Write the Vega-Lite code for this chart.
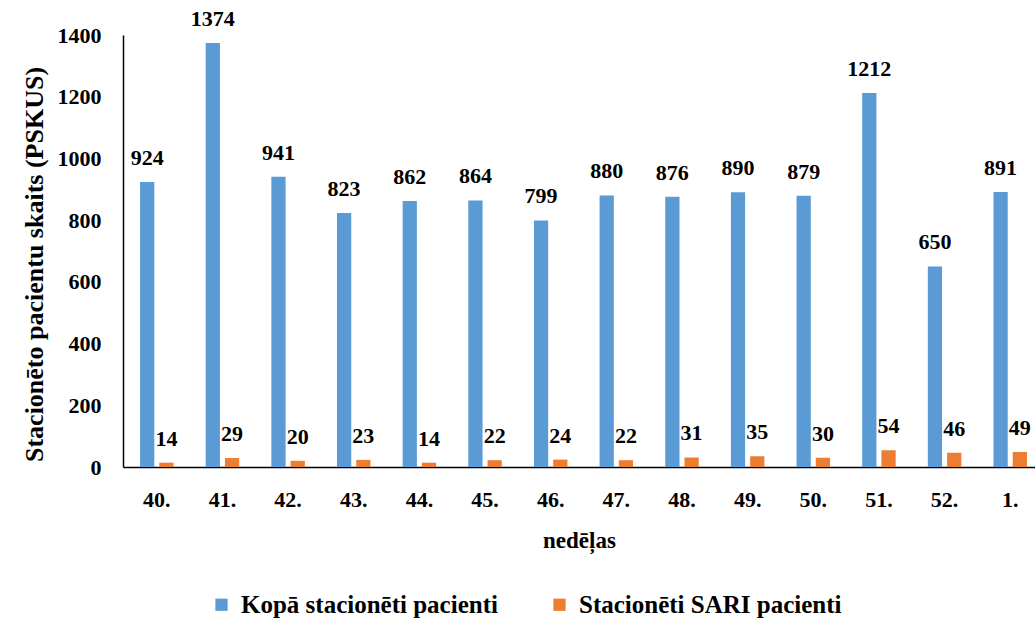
{
  "$schema": "https://vega.github.io/schema/vega-lite/v6.json",
  "width": 912,
  "height": 432,
  "autosize": {"type": "none"},
  "padding": {"left": 123, "top": 35, "right": 0, "bottom": 154},
  "background": "white",
  "config": {
    "view": {"stroke": null},
    "font": "Liberation Serif, serif",
    "axis": {"grid": false, "domainColor": "black", "domainWidth": 1.5, "labelFont": "Liberation Serif, serif", "labelFontWeight": "bold", "labelFontSize": 22, "labelColor": "black", "titleFont": "Liberation Serif, serif", "titleFontWeight": "bold", "titleFontSize": 23, "titleColor": "black"},
    "legend": {"labelFont": "Liberation Serif, serif", "labelFontWeight": "bold", "labelFontSize": 25, "labelColor": "black", "labelLimit": 0}
  },
  "data": {
    "values": [
      {"week": "40.", "series": "Kopā stacionēti pacienti", "value": 924},
      {"week": "41.", "series": "Kopā stacionēti pacienti", "value": 1374},
      {"week": "42.", "series": "Kopā stacionēti pacienti", "value": 941},
      {"week": "43.", "series": "Kopā stacionēti pacienti", "value": 823},
      {"week": "44.", "series": "Kopā stacionēti pacienti", "value": 862},
      {"week": "45.", "series": "Kopā stacionēti pacienti", "value": 864},
      {"week": "46.", "series": "Kopā stacionēti pacienti", "value": 799},
      {"week": "47.", "series": "Kopā stacionēti pacienti", "value": 880},
      {"week": "48.", "series": "Kopā stacionēti pacienti", "value": 876},
      {"week": "49.", "series": "Kopā stacionēti pacienti", "value": 890},
      {"week": "50.", "series": "Kopā stacionēti pacienti", "value": 879},
      {"week": "51.", "series": "Kopā stacionēti pacienti", "value": 1212},
      {"week": "52.", "series": "Kopā stacionēti pacienti", "value": 650},
      {"week": "1.", "series": "Kopā stacionēti pacienti", "value": 891},
      {"week": "40.", "series": "Stacionēti SARI pacienti", "value": 14},
      {"week": "41.", "series": "Stacionēti SARI pacienti", "value": 29},
      {"week": "42.", "series": "Stacionēti SARI pacienti", "value": 20},
      {"week": "43.", "series": "Stacionēti SARI pacienti", "value": 23},
      {"week": "44.", "series": "Stacionēti SARI pacienti", "value": 14},
      {"week": "45.", "series": "Stacionēti SARI pacienti", "value": 22},
      {"week": "46.", "series": "Stacionēti SARI pacienti", "value": 24},
      {"week": "47.", "series": "Stacionēti SARI pacienti", "value": 22},
      {"week": "48.", "series": "Stacionēti SARI pacienti", "value": 31},
      {"week": "49.", "series": "Stacionēti SARI pacienti", "value": 35},
      {"week": "50.", "series": "Stacionēti SARI pacienti", "value": 30},
      {"week": "51.", "series": "Stacionēti SARI pacienti", "value": 54},
      {"week": "52.", "series": "Stacionēti SARI pacienti", "value": 46},
      {"week": "1.", "series": "Stacionēti SARI pacienti", "value": 49}
    ]
  },
  "encoding": {
    "x": {
      "field": "week", "type": "nominal", "sort": null,
      "scale": {"paddingInner": 0.49, "paddingOuter": 0.191, "align": 0.68},
      "axis": {"title": "nedēļas", "labelAngle": 0, "ticks": false, "tickSize": 0, "labelPadding": 22, "titlePadding": 19}
    },
    "xOffset": {
      "field": "series", "type": "nominal",
      "sort": ["Kopā stacionēti pacienti", "Stacionēti SARI pacienti"],
      "scale": {"paddingInner": 0.26, "paddingOuter": 0}
    },
    "y": {
      "field": "value", "type": "quantitative",
      "scale": {"domain": [0, 1400], "nice": false},
      "axis": {"title": "Stacionēto pacientu skaits (PSKUS)", "format": "d", "values": [0, 200, 400, 600, 800, 1000, 1200, 1400], "ticks": false, "tickSize": 0, "labelPadding": 22, "titlePadding": 10, "titleFontSize": 26, "titleY": 229}
    }
  },
  "layer": [
    {
      "mark": {"type": "bar"},
      "encoding": {
        "color": {
          "field": "series", "type": "nominal",
          "scale": {"domain": ["Kopā stacionēti pacienti", "Stacionēti SARI pacienti"], "range": ["#5B9BD5", "#ED7D31"]},
          "legend": {"title": null, "orient": "none", "direction": "horizontal", "legendX": 86, "legendY": 557, "symbolType": "square", "symbolSize": 150, "symbolStrokeWidth": 0, "columnPadding": 49, "labelOffset": 7}
        }
      }
    },
    {
      "mark": {"type": "text", "baseline": "alphabetic", "dy": -17, "fontSize": 22, "fontWeight": "bold", "font": "Liberation Serif, serif", "color": "black"},
      "encoding": {"text": {"field": "value", "type": "quantitative"}}
    }
  ]
}
